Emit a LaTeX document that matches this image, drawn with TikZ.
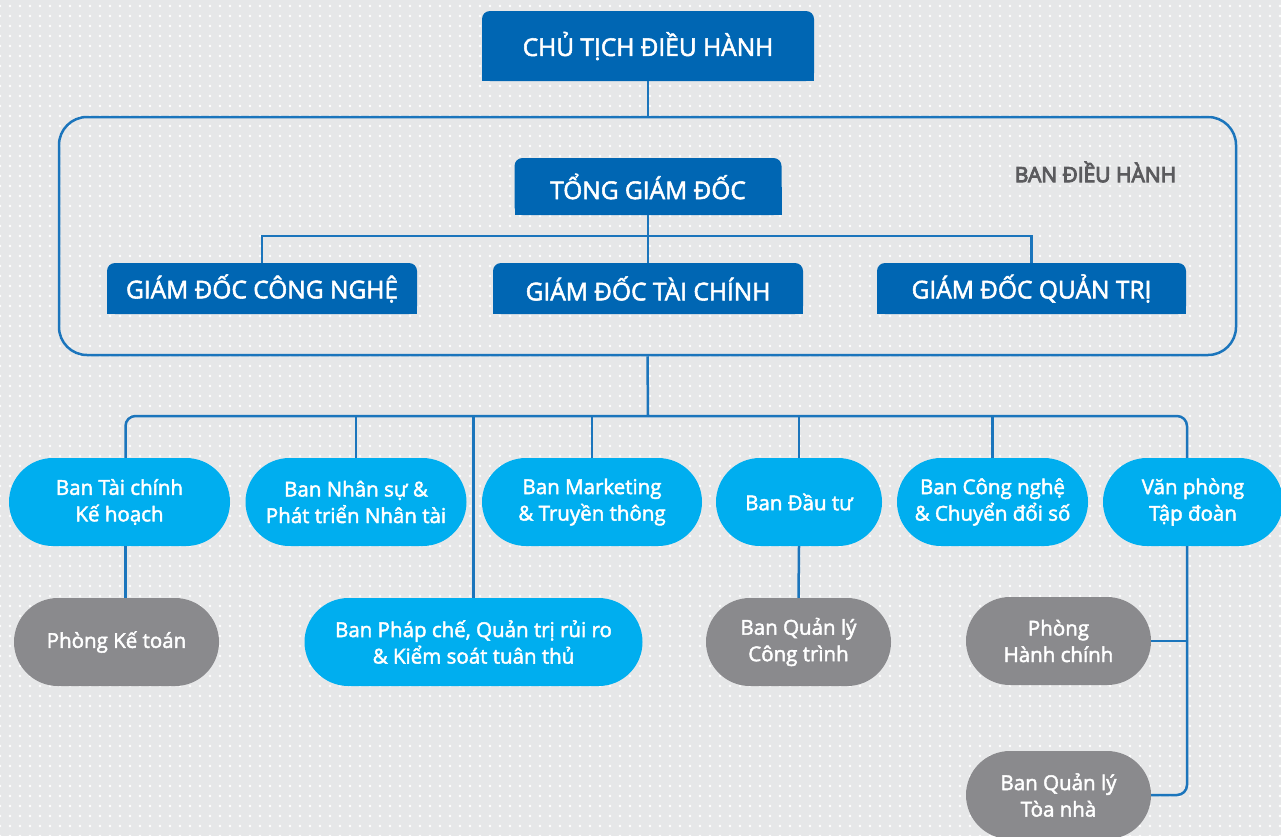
\documentclass[tikz,border=0pt]{standalone}
\usepackage{fontspec}
\setmainfont{Open Sans}
\newfontfamily\medfont{Open Sans}[FakeBold=2.2]
\newfontfamily\labelfont{Open Sans}[FakeBold=4.5]
\usetikzlibrary{shapes.misc,patterns.meta}

\definecolor{bgc}{HTML}{E6E7E8}
\definecolor{headblue}{HTML}{0066B3}
\definecolor{pillblue}{HTML}{00AEEF}
\definecolor{pillgrey}{HTML}{8A8A8D}
\definecolor{linkblue}{HTML}{1B75BC}
\definecolor{labelgrey}{HTML}{5B5B5E}

\tikzset{
  link/.style={draw=linkblue, line width=2.5pt},
  headtext/.style={text=white, font=\medfont\fontsize{24.5}{28}\selectfont, inner sep=0pt},
  pill/.style={rounded rectangle, fill=pillblue, text=white, align=center,
    minimum height=88pt, inner sep=0pt, font=\medfont\fontsize{20.5}{26.5}\selectfont},
  subpill/.style={pill, fill=pillgrey},
}

% head box: flat bottom, rounded top corners
% #1 name, #2 cx, #3 cy, #4 width, #5 height, #6 label
\newcommand\headbox[6]{%
  \fill[headblue, rounded corners=8pt] (#2-#4/2, #3-#5/2) rectangle (#2+#4/2, #3+#5/2);
  \fill[headblue] (#2-#4/2, #3) rectangle (#2+#4/2, #3+#5/2);
  \node[headtext, minimum width=#4pt, minimum height=#5pt] (#1) at (#2,#3) {#6};
}

\begin{document}
\begin{tikzpicture}[x=1pt, y=-1pt]
\useasboundingbox (0,0) rectangle (1281,836);
\clip (0,0) rectangle (1281,836);

% dotted background
\fill[bgc] (0,0) rectangle (1281,836);
\fill[pattern={Dots[distance=10pt, radius=1.3pt]}, pattern color=white] (0,0) rectangle (1281,836);

% executive board frame
\node[draw=linkblue, line width=2.5pt, rounded corners=28pt, minimum width=1177pt,
      minimum height=238pt, inner sep=0pt] (frame) at (647.5,236) {};
\node[text=labelgrey, font=\labelfont\fontsize{21}{24}\selectfont] (boardlabel) at (1095.5,172) {BAN ĐIỀU HÀNH};

% leadership
\headbox{chair}{648}{46}{332}{70}{CHỦ TỊCH ĐIỀU HÀNH}
\headbox{ceo}{648}{186.5}{267}{57}{TỔNG GIÁM ĐỐC}
\headbox{cto}{262}{288.5}{310}{51}{GIÁM ĐỐC CÔNG NGHỆ}
\headbox{cfo}{648}{288.5}{310}{51}{GIÁM ĐỐC TÀI CHÍNH}
\headbox{cao}{1031.5}{288.5}{309}{51}{GIÁM ĐỐC QUẢN TRỊ}

% departments
\node[pill, minimum width=221pt] (fin) at (119.5,502) {Ban Tài chính\\Kế hoạch};
\node[pill, minimum width=221pt] (hr) at (356,502) {Ban Nhân sự \&\\Phát triển Nhân tài};
\node[pill, minimum width=220pt] (mkt) at (592,502) {Ban Marketing\\\& Truyền thông};
\node[pill, minimum width=166pt] (inv) at (799,502) {Ban Đầu tư};
\node[pill, minimum width=191pt] (tech) at (992.5,502) {Ban Công nghệ\\\& Chuyển đổi số};
\node[pill, minimum width=180pt] (office) at (1193,502) {Văn phòng\\Tập đoàn};

\node[subpill, minimum width=205pt] (acc) at (116.5,642) {Phòng Kế toán};
\node[pill, minimum width=338pt] (legal) at (473.5,642) {Ban Pháp chế, Quản trị rủi ro\\\& Kiểm soát tuân thủ};
\node[subpill, minimum width=185pt] (proj) at (798.5,642) {Ban Quản lý\\Công trình};
\node[subpill, minimum width=185pt] (admin) at (1058.5,641) {Phòng\\Hành chính};
\node[subpill, minimum width=185pt] (bldg) at (1058.5,795) {Ban Quản lý\\Tòa nhà};

% connectors
\coordinate (busA) at (648,236);
\coordinate (busB) at (648,416);
\draw[link] (chair.south) -- (chair.south |- frame.north);
\draw[link] (ceo.south) -- (cfo.north);
\draw[link] (cto.north) |- (busA) -| (cao.north);
\draw[link] (frame.south) -- (busB);
\draw[link, rounded corners=10pt] ([xshift=6pt]fin.north) |- (busB) -| ([xshift=-6pt]office.north);
\draw[link] (hr.north |- busB) -- (hr.north);
\draw[link] (mkt.north |- busB) -- (mkt.north);
\draw[link] (inv.north |- busB) -- (inv.north);
\draw[link] (tech.north |- busB) -- (tech.north);
\draw[link] (legal.north |- busB) -- (legal.north);
\draw[link] ([xshift=6pt]fin.south) -- ([xshift=6pt]fin.south |- acc.north);
\draw[link] (inv.south) -- (proj.north);
\draw[link, rounded corners=10pt] ([xshift=-6pt]office.south) |- (bldg.east);
\draw[link] (admin.east) -- ([xshift=-6pt]office.south |- admin.east);
\end{tikzpicture}
\end{document}
